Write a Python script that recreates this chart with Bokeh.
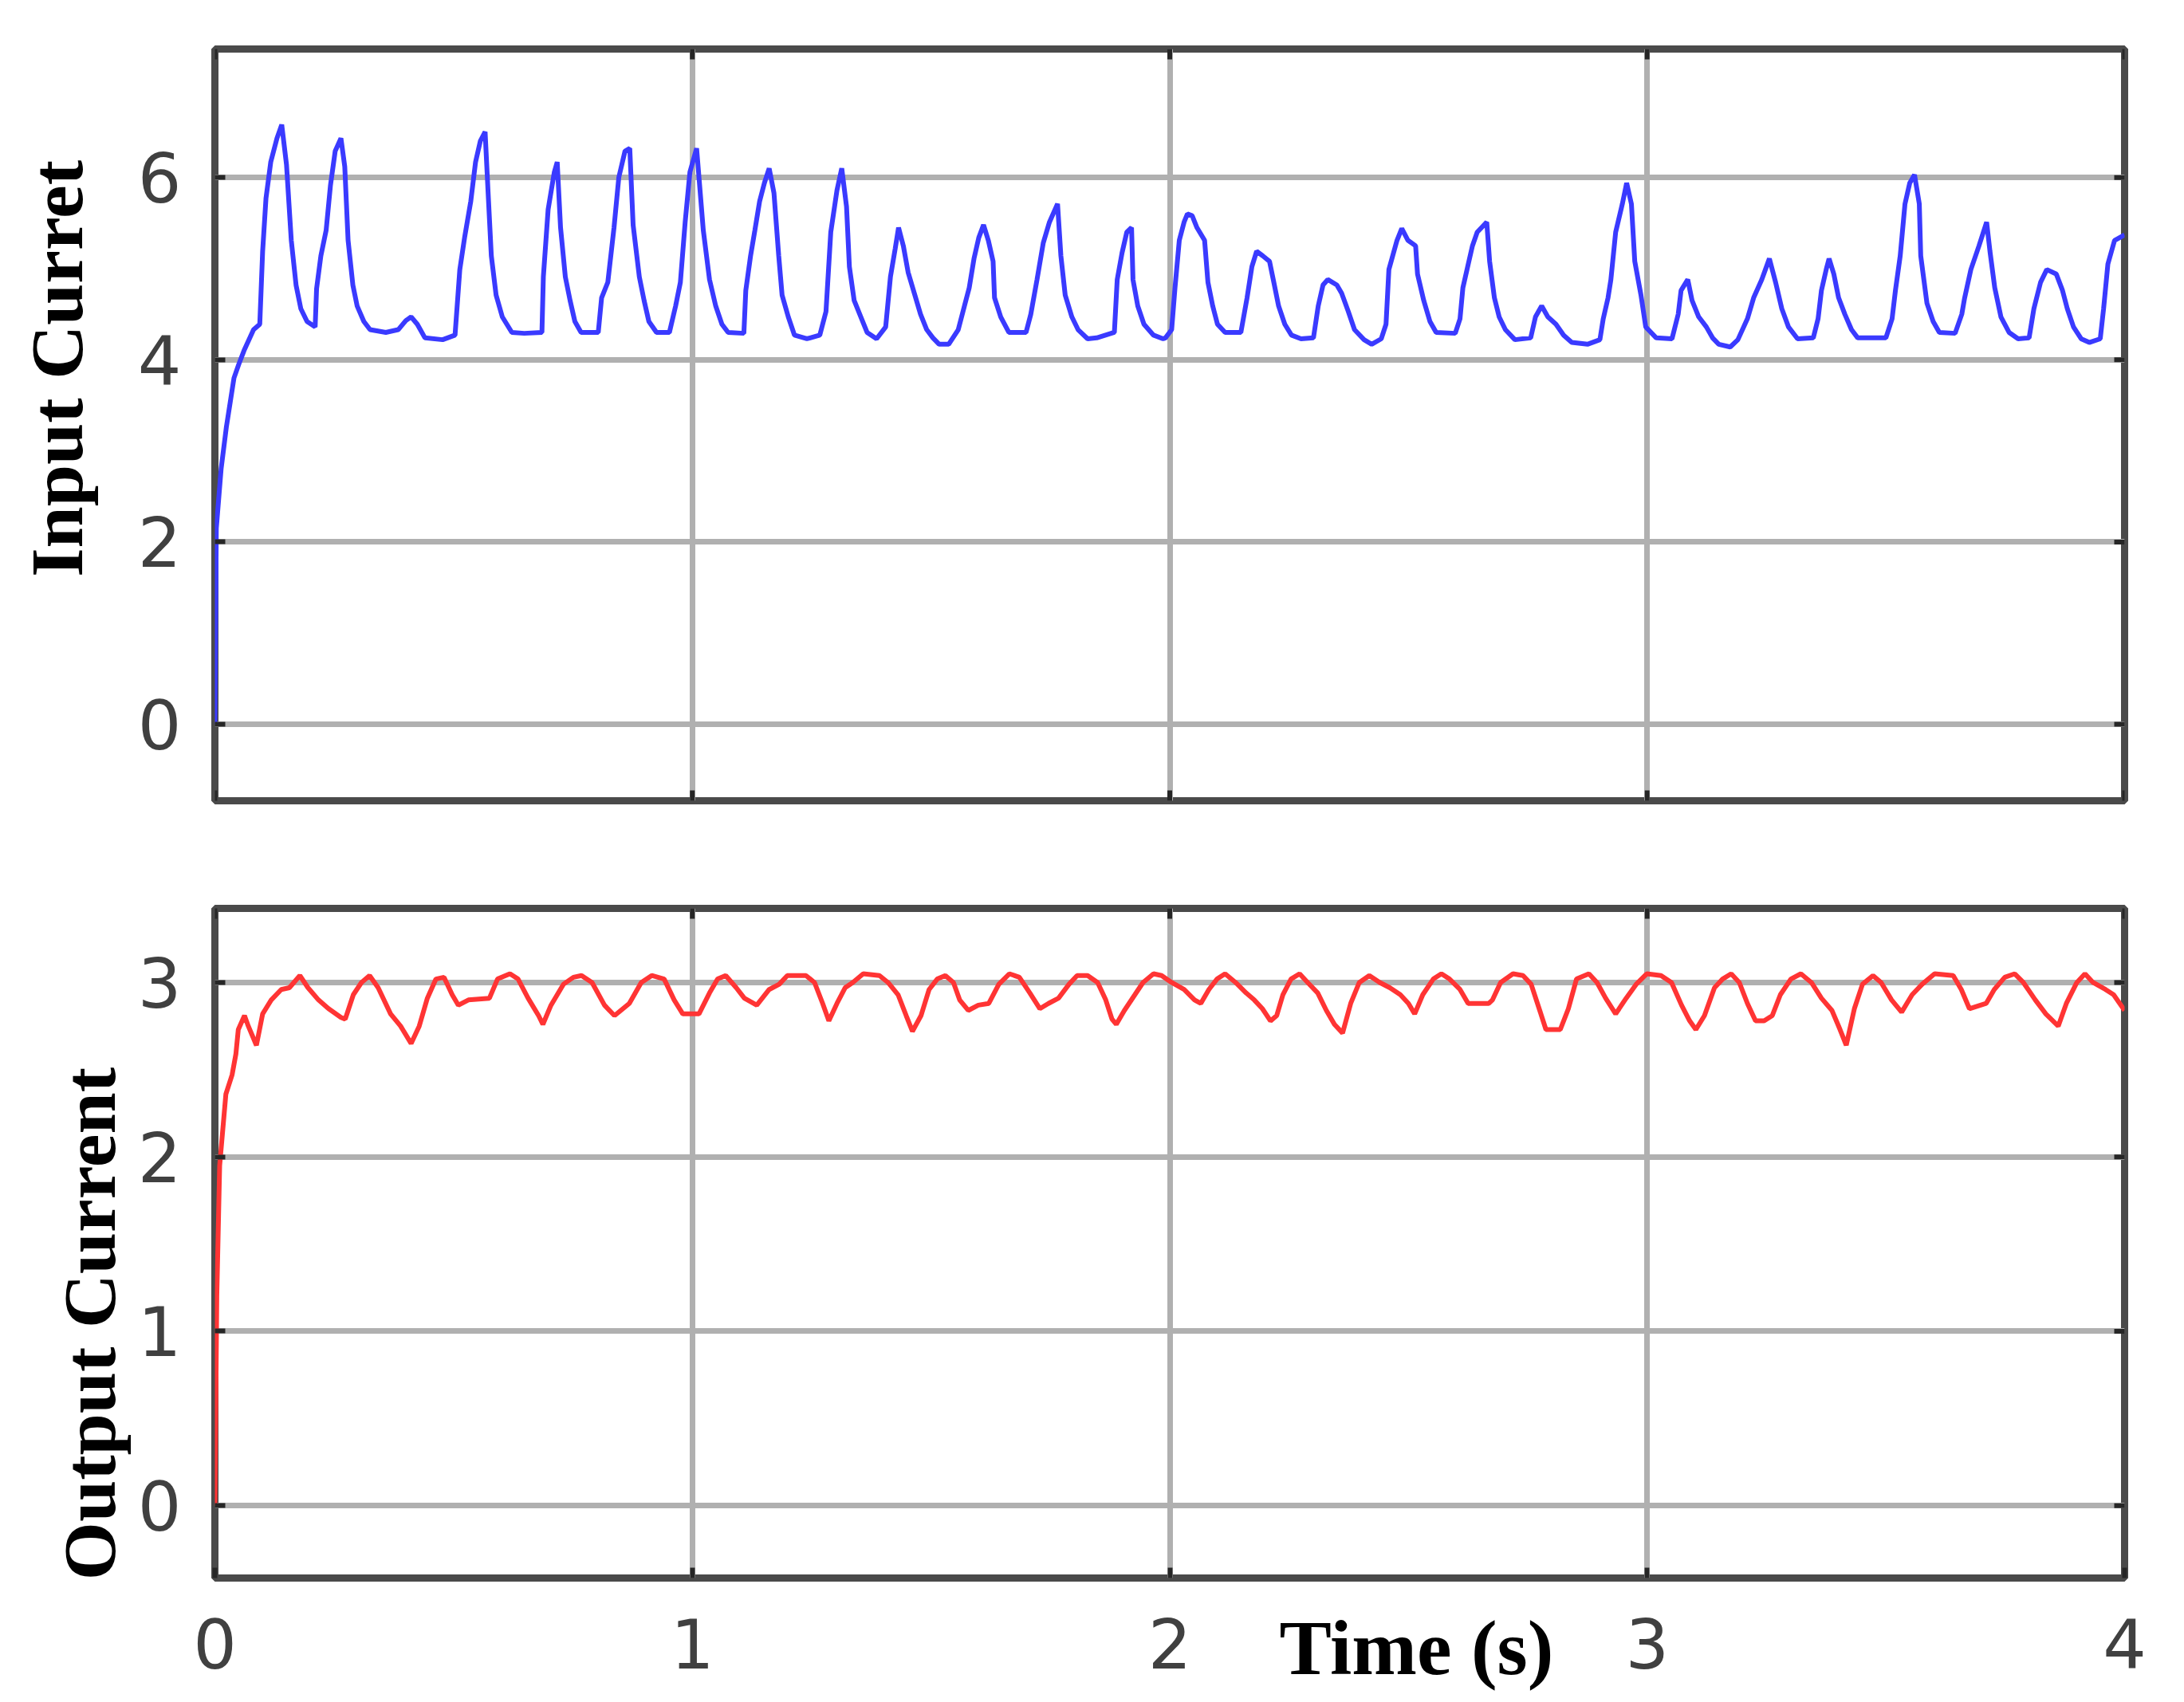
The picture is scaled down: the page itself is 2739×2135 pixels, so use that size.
import math
from bokeh.plotting import figure
from bokeh.layouts import column, row
from bokeh.models import Range1d, FixedTicker, Title
from bokeh.core.properties import value
from bokeh.embed import file_html
from bokeh.resources import INLINE

# ---------------- data ----------------
x_ticks = [0, 1, 2, 3, 4]
in_ticks = [0, 2, 4, 6]
out_ticks = [0, 1, 2, 3]

in_time = [0.0, 0.003, 0.013, 0.024, 0.040, 0.050, 0.061, 0.081, 0.094, 0.100, 0.107, 0.117, 0.130, 0.140,
           0.150, 0.160, 0.170, 0.180, 0.193, 0.210, 0.213, 0.222, 0.233, 0.242, 0.252, 0.264, 0.272, 0.279,
           0.289, 0.298, 0.312, 0.325, 0.358, 0.384, 0.400, 0.411, 0.424, 0.440, 0.477, 0.503, 0.513, 0.523,
           0.536, 0.546, 0.556, 0.566, 0.572, 0.579, 0.589, 0.602, 0.622, 0.648, 0.685, 0.688, 0.698, 0.711,
           0.717, 0.724, 0.734, 0.744, 0.754, 0.767, 0.803, 0.810, 0.823, 0.836, 0.846, 0.859, 0.869, 0.876,
           0.889, 0.899, 0.909, 0.925, 0.952, 0.965, 0.975, 0.985, 0.995, 1.009, 1.023, 1.036, 1.049, 1.062,
           1.075, 1.108, 1.112, 1.122, 1.131, 1.141, 1.151, 1.161, 1.171, 1.181, 1.188, 1.201, 1.214, 1.240,
           1.267, 1.280, 1.290, 1.303, 1.313, 1.323, 1.329, 1.339, 1.353, 1.366, 1.386, 1.405, 1.415, 1.425,
           1.432, 1.442, 1.452, 1.465, 1.478, 1.491, 1.504, 1.517, 1.537, 1.557, 1.570, 1.580, 1.590, 1.600,
           1.610, 1.620, 1.630, 1.633, 1.646, 1.663, 1.699, 1.709, 1.722, 1.735, 1.748, 1.765, 1.772, 1.781,
           1.795, 1.808, 1.828, 1.847, 1.884, 1.890, 1.900, 1.910, 1.920, 1.923, 1.933, 1.946, 1.966, 1.986,
           1.991, 2.004, 2.011, 2.020, 2.030, 2.037, 2.047, 2.057, 2.073, 2.080, 2.090, 2.100, 2.116, 2.149,
           2.162, 2.172, 2.182, 2.195, 2.209, 2.218, 2.228, 2.241, 2.255, 2.275, 2.301, 2.311, 2.321, 2.331,
           2.350, 2.360, 2.374, 2.387, 2.407, 2.423, 2.443, 2.453, 2.459, 2.476, 2.486, 2.499, 2.515, 2.519,
           2.532, 2.545, 2.558, 2.598, 2.608, 2.614, 2.624, 2.634, 2.644, 2.664, 2.670, 2.680, 2.690, 2.703,
           2.723, 2.756, 2.766, 2.779, 2.792, 2.809, 2.825, 2.842, 2.875, 2.901, 2.908, 2.918, 2.924, 2.934,
           2.948, 2.957, 2.967, 2.974, 2.987, 2.997, 3.019, 3.052, 3.065, 3.071, 3.085, 3.094, 3.108, 3.124,
           3.137, 3.150, 3.174, 3.190, 3.210, 3.223, 3.240, 3.256, 3.269, 3.282, 3.296, 3.315, 3.348, 3.358,
           3.365, 3.375, 3.381, 3.391, 3.401, 3.414, 3.428, 3.441, 3.500, 3.513, 3.520, 3.530, 3.540, 3.550,
           3.560, 3.570, 3.573, 3.586, 3.599, 3.612, 3.645, 3.659, 3.665, 3.678, 3.695, 3.711, 3.718, 3.728,
           3.741, 3.758, 3.777, 3.800, 3.810, 3.824, 3.837, 3.857, 3.870, 3.880, 3.893, 3.909, 3.926, 3.949,
           3.956, 3.965, 3.979, 4.000]
in_current = [0.0, 2.15, 2.80, 3.26, 3.80, 3.95, 4.10, 4.33, 4.39, 5.19, 5.77, 6.17, 6.43, 6.58,
              6.14, 5.31, 4.82, 4.56, 4.42, 4.36, 4.78, 5.14, 5.42, 5.91, 6.29, 6.43, 6.12, 5.31,
              4.82, 4.59, 4.42, 4.33, 4.30, 4.33, 4.43, 4.47, 4.39, 4.24, 4.22, 4.27, 4.99, 5.34,
              5.74, 6.17, 6.40, 6.50, 5.86, 5.14, 4.71, 4.47, 4.30, 4.29, 4.30, 4.91, 5.65, 6.06,
              6.17, 5.45, 4.91, 4.65, 4.42, 4.30, 4.30, 4.68, 4.85, 5.45, 6.00, 6.29, 6.32, 5.48,
              4.91, 4.65, 4.42, 4.30, 4.30, 4.59, 4.85, 5.51, 6.06, 6.32, 5.42, 4.88, 4.59, 4.39,
              4.30, 4.29, 4.76, 5.14, 5.42, 5.74, 5.94, 6.10, 5.83, 5.14, 4.71, 4.47, 4.27, 4.23,
              4.27, 4.53, 5.40, 5.86, 6.10, 5.68, 5.02, 4.65, 4.47, 4.30, 4.23, 4.36, 4.91, 5.22,
              5.45, 5.25, 4.96, 4.73, 4.50, 4.33, 4.24, 4.17, 4.17, 4.33, 4.59, 4.79, 5.11, 5.34,
              5.48, 5.31, 5.08, 4.68, 4.47, 4.30, 4.30, 4.50, 4.88, 5.28, 5.51, 5.71, 5.14, 4.71,
              4.47, 4.33, 4.23, 4.24, 4.30, 4.88, 5.17, 5.40, 5.45, 4.88, 4.59, 4.39, 4.27, 4.23,
              4.24, 4.33, 4.79, 5.31, 5.51, 5.60, 5.58, 5.45, 5.31, 4.85, 4.59, 4.39, 4.30, 4.30,
              4.68, 5.02, 5.19, 5.14, 5.08, 4.85, 4.59, 4.39, 4.27, 4.23, 4.24, 4.59, 4.82, 4.88,
              4.82, 4.73, 4.53, 4.33, 4.22, 4.17, 4.23, 4.39, 4.99, 5.31, 5.44, 5.31, 5.25, 4.94,
              4.65, 4.42, 4.30, 4.29, 4.45, 4.79, 5.02, 5.25, 5.40, 5.51, 5.08, 4.68, 4.47, 4.33,
              4.22, 4.24, 4.47, 4.59, 4.47, 4.39, 4.27, 4.19, 4.17, 4.22, 4.45, 4.68, 4.88, 5.40,
              5.71, 5.94, 5.71, 5.08, 4.71, 4.36, 4.24, 4.23, 4.50, 4.76, 4.88, 4.65, 4.47, 4.36,
              4.24, 4.17, 4.14, 4.22, 4.45, 4.68, 4.88, 5.11, 4.85, 4.56, 4.36, 4.23, 4.24, 4.45,
              4.76, 4.99, 5.11, 4.94, 4.68, 4.50, 4.33, 4.24, 4.24, 4.45, 4.76, 5.14, 5.71, 5.94,
              6.03, 5.71, 5.14, 4.62, 4.42, 4.30, 4.29, 4.50, 4.68, 4.99, 5.25, 5.51, 5.19, 4.79,
              4.47, 4.30, 4.23, 4.24, 4.56, 4.85, 4.99, 4.94, 4.76, 4.56, 4.36, 4.23, 4.19, 4.23,
              4.56, 5.05, 5.31, 5.37]

out_time = [0.0, 0.004, 0.010, 0.023, 0.036, 0.044, 0.049, 0.062, 0.070, 0.087, 0.100, 0.118, 0.139, 0.156,
            0.178, 0.195, 0.217, 0.238, 0.264, 0.273, 0.290, 0.307, 0.324, 0.342, 0.368, 0.389, 0.411, 0.428,
            0.445, 0.463, 0.480, 0.497, 0.510, 0.531, 0.575, 0.592, 0.618, 0.635, 0.656, 0.678, 0.687, 0.704,
            0.730, 0.751, 0.768, 0.790, 0.816, 0.837, 0.868, 0.893, 0.915, 0.941, 0.962, 0.980, 1.014, 1.036,
            1.053, 1.070, 1.092, 1.109, 1.135, 1.161, 1.182, 1.199, 1.238, 1.256, 1.273, 1.286, 1.303, 1.320,
            1.336, 1.358, 1.392, 1.410, 1.431, 1.448, 1.461, 1.479, 1.496, 1.513, 1.530, 1.547, 1.560, 1.578,
            1.599, 1.621, 1.642, 1.664, 1.685, 1.707, 1.728, 1.746, 1.767, 1.789, 1.806, 1.828, 1.849, 1.866,
            1.879, 1.888, 1.905, 1.927, 1.944, 1.966, 1.983, 2.004, 2.030, 2.052, 2.065, 2.082, 2.099, 2.116,
            2.138, 2.160, 2.177, 2.194, 2.211, 2.224, 2.237, 2.254, 2.272, 2.289, 2.310, 2.328, 2.345, 2.362,
            2.379, 2.397, 2.418, 2.440, 2.461, 2.483, 2.500, 2.513, 2.530, 2.552, 2.569, 2.586, 2.608, 2.625,
            2.668, 2.676, 2.693, 2.719, 2.740, 2.757, 2.775, 2.788, 2.818, 2.835, 2.852, 2.878, 2.895, 2.913,
            2.934, 2.956, 2.977, 2.999, 3.029, 3.051, 3.072, 3.089, 3.102, 3.120, 3.141, 3.158, 3.176, 3.193,
            3.210, 3.227, 3.245, 3.262, 3.279, 3.301, 3.322, 3.344, 3.365, 3.387, 3.404, 3.417, 3.434, 3.451,
            3.473, 3.490, 3.512, 3.533, 3.555, 3.576, 3.602, 3.641, 3.658, 3.675, 3.710, 3.727, 3.749, 3.770,
            3.788, 3.813, 3.835, 3.861, 3.878, 3.900, 3.917, 3.934, 3.960, 3.977, 4.000]
out_current = [0.0, 1.20, 1.95, 2.36, 2.47, 2.59, 2.73, 2.81, 2.75, 2.64, 2.82, 2.90, 2.96, 2.97,
               3.04, 2.97, 2.90, 2.85, 2.80, 2.79, 2.93, 3.00, 3.04, 2.97, 2.82, 2.75, 2.65, 2.75,
               2.91, 3.02, 3.03, 2.93, 2.87, 2.90, 2.91, 3.02, 3.05, 3.02, 2.91, 2.81, 2.76, 2.87,
               2.99, 3.03, 3.04, 3.00, 2.87, 2.81, 2.88, 3.00, 3.04, 3.02, 2.90, 2.82, 2.82, 2.94,
               3.02, 3.04, 2.97, 2.91, 2.87, 2.96, 2.99, 3.04, 3.04, 3.00, 2.88, 2.78, 2.88, 2.97,
               3.00, 3.05, 3.04, 3.00, 2.93, 2.81, 2.72, 2.81, 2.96, 3.02, 3.04, 3.00, 2.90, 2.84,
               2.87, 2.88, 2.99, 3.05, 3.03, 2.94, 2.85, 2.88, 2.91, 2.99, 3.04, 3.04, 3.00, 2.90,
               2.79, 2.76, 2.84, 2.93, 3.00, 3.05, 3.04, 3.00, 2.96, 2.90, 2.88, 2.96, 3.02, 3.05,
               3.00, 2.94, 2.90, 2.85, 2.78, 2.81, 2.93, 3.02, 3.05, 3.00, 2.94, 2.84, 2.76, 2.71,
               2.88, 3.00, 3.04, 3.00, 2.97, 2.93, 2.88, 2.82, 2.93, 3.02, 3.05, 3.02, 2.96, 2.88,
               2.88, 2.90, 3.00, 3.05, 3.04, 2.99, 2.84, 2.73, 2.73, 2.85, 3.02, 3.05, 3.00, 2.91,
               2.82, 2.91, 2.99, 3.05, 3.04, 3.00, 2.87, 2.78, 2.73, 2.81, 2.97, 3.02, 3.05, 3.00,
               2.88, 2.78, 2.78, 2.81, 2.93, 3.02, 3.05, 3.00, 2.91, 2.84, 2.73, 2.64, 2.85, 2.99,
               3.04, 3.00, 2.90, 2.83, 2.93, 2.99, 3.05, 3.04, 2.96, 2.85, 2.88, 2.96, 3.03, 3.05,
               3.00, 2.90, 2.82, 2.75, 2.88, 3.00, 3.05, 3.00, 2.96, 2.93, 2.84]

y_titles = ["Input Curret", "Output Current"]

TICK_FONT = "DejaVu Sans"
TITLE_FONT = "Liberation Serif"
TICK_COLOR = "#262626"

# layout constants (pixels)
LAB_W = 169          # width of the strip that carries the rotated y titles
TOP_H = 1070
BOT_H = 1060
TOTAL_W = 2720


def make_panel(height, yr, yticks, b_top, b_bottom, show_xaxis):
    p = figure(width=TOTAL_W - LAB_W, height=height, x_range=Range1d(0, 4), y_range=Range1d(*yr),
               output_backend="svg", toolbar_location=None,
               min_border_left=267 - LAB_W, min_border_right=56,
               min_border_top=b_top, min_border_bottom=b_bottom)
    p.background_fill_color = "white"
    p.border_fill_color = "white"
    p.outline_line_color = "#4a4a4a"
    p.outline_line_width = 9
    p.xaxis.ticker = FixedTicker(ticks=x_ticks)
    p.yaxis.ticker = FixedTicker(ticks=yticks)
    p.xgrid.ticker = FixedTicker(ticks=x_ticks)
    p.ygrid.ticker = FixedTicker(ticks=yticks)
    for g in (p.xgrid, p.ygrid):
        g.grid_line_color = "#b0b0b0"
        g.grid_line_width = 7
    for ax in (p.xaxis, p.yaxis):
        ax.axis_line_color = None
        ax.major_tick_in = 13
        ax.major_tick_out = 0
        ax.major_tick_line_width = 6
        ax.major_tick_line_color = TICK_COLOR
        ax.minor_tick_line_color = None
        ax.major_label_text_font = TICK_FONT
        ax.major_label_text_font_size = "86px"
        ax.major_label_text_color = "#404040"
    p.yaxis.major_label_standoff = 42
    p.xaxis.major_label_standoff = 50
    if not show_xaxis:
        p.xaxis.visible = False
        # inward ticks on the bottom edge
        p.scatter(x_ticks, [yr[0]] * len(x_ticks), marker="dash", size=26, angle=math.pi / 2,
                  line_color=TICK_COLOR, line_width=6)
    # inward ticks on the top and right edges (box)
    p.scatter(x_ticks, [yr[1]] * len(x_ticks), marker="dash", size=26, angle=math.pi / 2,
              line_color=TICK_COLOR, line_width=6)
    p.scatter([4] * len(yticks), yticks, marker="dash", size=26,
              line_color=TICK_COLOR, line_width=6)
    return p


p1 = make_panel(TOP_H, (-0.84, 7.41), in_ticks, 61, 66, False)
p1.line(in_time, in_current, line_color="#3a3aff", line_width=6)

p2 = make_panel(BOT_H, (-0.415, 3.425), out_ticks, 69, 151, True)
p2.line(out_time, out_current, line_color="#ff3434", line_width=6)
p2.add_layout(Title(text="Time (s)", align="left", offset=1335, standoff=-166,
                    vertical_align="top",
                    text_font=TITLE_FONT, text_font_style="bold",
                    text_font_size="98px", text_color="black"), "below")

# strip on the left carrying the rotated y-axis titles (pixel coordinates, origin bottom-left)
H_ALL = TOP_H + BOT_H
lab = figure(width=LAB_W, height=H_ALL, x_range=Range1d(0, LAB_W), y_range=Range1d(0, H_ALL),
             output_backend="svg", toolbar_location=None,
             min_border_left=0, min_border_right=0, min_border_top=0, min_border_bottom=0)
lab.axis.visible = False
lab.grid.visible = False
lab.outline_line_color = None
lab.background_fill_color = "white"
lab.border_fill_color = "white"
lab.text(x=[70, 111], y=[H_ALL - 462, H_ALL - 1660], text=y_titles, angle=math.pi / 2,
         text_align="center", text_baseline="middle",
         text_font=value(TITLE_FONT), text_font_style="bold",
         text_font_size=value("94px"), text_color="black")

layout = row(lab, column(p1, p2, spacing=0), spacing=0)
open("out.html", "w").write(file_html(layout, INLINE))
